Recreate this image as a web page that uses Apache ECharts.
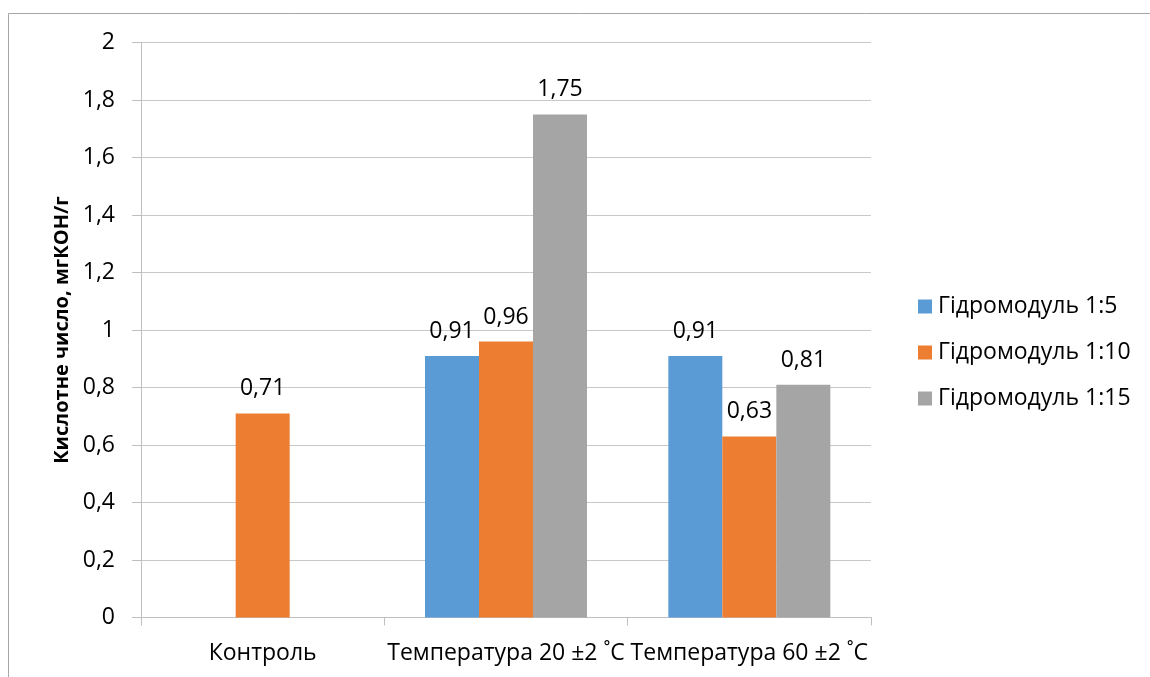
<!DOCTYPE html>
<html>
<head>
<meta charset="utf-8">
<script src="https://cdn.jsdelivr.net/npm/echarts@6/dist/echarts.min.js"></script>
<style>
  html, body { margin: 0; padding: 0; background: #fff; }
  #chart { width: 1150px; height: 677px; }
</style>
</head>
<body>
<div id="chart"></div>
<script>
// Categories along the x axis
const categories = ['Контроль', 'Температура 20 ±2 ˚C', 'Температура 60 ±2 ˚C'];

// Series names and values (acid number, mg KOH/g)
const seriesNames = ['Гідромодуль 1:5', 'Гідромодуль 1:10', 'Гідромодуль 1:15'];
const hydro5 = [null, 0.91, 0.91];
const hydro10 = [0.71, 0.96, 0.63];
const hydro15 = [null, 1.75, 0.81];

const colors = ['#5b9bd5', '#ed7d31', '#a5a5a5'];
const yTitle = 'Кислотне число, мгКОН/г';
const fontFamily = '"Open Sans", Lato, sans-serif';
const fs = 23;

const comma = v => String(v).replace('.', ',');

function barSeries(name, data, color) {
  return {
    name: name,
    type: 'bar',
    data: data,
    barWidth: 54,
    barGap: '0%',
    itemStyle: { color: color },
    label: {
      show: true,
      position: 'top',
      distance: 13,
      fontSize: fs,
      fontFamily: fontFamily,
      color: '#000',
      formatter: p => comma(p.value)
    }
  };
}

const chart = echarts.init(document.getElementById('chart'));
chart.setOption({
  animation: false,
  color: colors,
  textStyle: { fontFamily: fontFamily },
  graphic: [{
    type: 'rect',
    shape: { x: 8.5, y: 13.5, width: 1200, height: 700 },
    style: { fill: 'none', stroke: '#a6a6a6', lineWidth: 1 },
    silent: true
  }],
  grid: { left: 141, right: 279, top: 42.5, bottom: 59.5 },
  legend: {
    orient: 'vertical',
    left: 913,
    top: 290,
    icon: 'rect',
    itemWidth: 14,
    itemHeight: 14,
    itemGap: 23,
    data: seriesNames,
    textStyle: { fontSize: fs, color: '#000', lineHeight: 23, padding: [0, 0, 0, 1], fontFamily: fontFamily }
  },
  xAxis: {
    type: 'category',
    data: categories,
    axisLine: { lineStyle: { color: '#bfbfbf' } },
    axisTick: { show: true, length: 8, lineStyle: { color: '#bfbfbf' } },
    axisLabel: { interval: 0, fontSize: fs, color: '#000', margin: 24, fontFamily: fontFamily }
  },
  yAxis: {
    type: 'value',
    min: 0,
    max: 2,
    interval: 0.2,
    name: yTitle,
    nameLocation: 'middle',
    nameGap: 69,
    nameRotate: 90,
    nameTextStyle: { fontSize: 20, fontWeight: 'bold', color: '#000', fontFamily: fontFamily },
    axisLine: { show: true, lineStyle: { color: '#bfbfbf' } },
    axisTick: { show: true, length: 9, lineStyle: { color: '#bfbfbf' } },
    splitLine: { lineStyle: { color: '#c8c8c8' } },
    axisLabel: {
      fontSize: fs,
      color: '#000',
      margin: 26,
      fontFamily: fontFamily,
      formatter: v => comma(+v.toFixed(1))
    }
  },
  series: [
    barSeries(seriesNames[0], hydro5, colors[0]),
    barSeries(seriesNames[1], hydro10, colors[1]),
    barSeries(seriesNames[2], hydro15, colors[2])
  ]
});
</script>
</body>
</html>
